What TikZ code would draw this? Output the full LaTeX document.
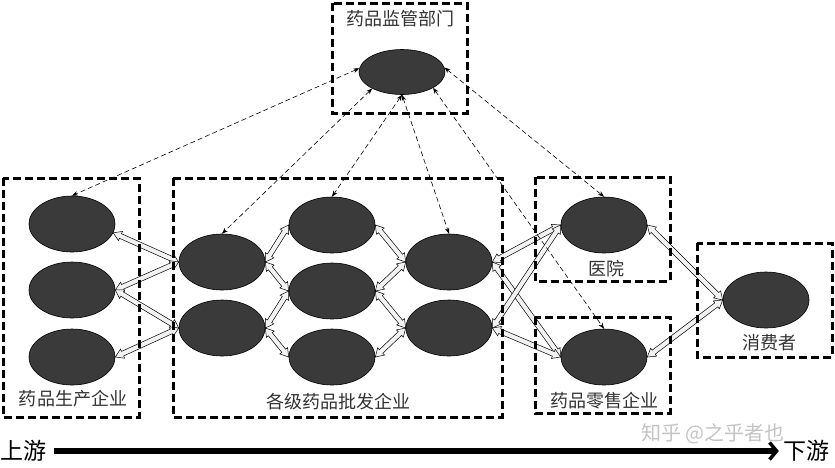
\documentclass[tikz,border=0pt]{standalone}
\usepackage{fontspec}
\newfontfamily\cjk{Noto Sans CJK SC}
\usetikzlibrary{shapes.geometric,calc,arrows.meta}
\definecolor{blobc}{HTML}{3A3A3A}
\definecolor{txt}{HTML}{333333}
\definecolor{hfill}{HTML}{F2F2F2}
\definecolor{wm}{HTML}{C4C4C4}
\newcommand\hollowarr[2]{%
  \coordinate (ha) at ($(#1)!8pt!(#2)$);
  \coordinate (hb) at ($(#2)!8pt!(#1)$);
  \filldraw[hollowline] (#1) -- ($(ha)!5pt!90:(#2)$) -- ($(ha)!2.5pt!90:(#2)$)
    -- ($(hb)!2.5pt!90:(#2)$) -- ($(hb)!5pt!90:(#2)$) -- (#2)
    -- ($(hb)!5pt!-90:(#2)$) -- ($(hb)!2.5pt!-90:(#2)$)
    -- ($(ha)!2.5pt!-90:(#2)$) -- ($(ha)!5pt!-90:(#2)$) -- cycle;}
\begin{document}
\begin{tikzpicture}[x=1pt,y=-1pt,
  blob/.style={ellipse,draw=black,line width=0.6pt,fill=blobc,minimum width=86pt,minimum height=56pt,inner sep=0pt},
  groupbox/.style={draw=black,line width=3pt,dash pattern=on 8pt off 4pt},
  lab/.style={font=\cjk\fontsize{18pt}{18pt}\selectfont,text=txt,inner sep=0pt},
  hollowline/.style={fill=hfill,draw=black,line width=0.5pt,line join=miter},
  dasharr/.style={draw=black,line width=0.6pt,dash pattern=on 5pt off 3pt,{Stealth[length=6pt,width=4.5pt]}-{Stealth[length=6pt,width=4.5pt]}},
]
\useasboundingbox (0,0) rectangle (835,467);
\fill[white] (0,0) rectangle (835,467);

% ellipses
\node[blob,minimum height=45pt] (reg) at (402,72) {};
\node[blob] (p1) at (72,224) {};
\node[blob] (p2) at (72,290) {};
\node[blob] (p3) at (72,357) {};
\node[blob] (w1) at (222,262) {};
\node[blob] (w2) at (222,328) {};
\node[blob] (m1) at (332,225) {};
\node[blob] (m2) at (332,291) {};
\node[blob] (m3) at (332,357) {};
\node[blob] (r1) at (449,262) {};
\node[blob] (r2) at (449,328) {};
\node[blob] (hosp) at (604,225) {};
\node[blob] (shop) at (604,357) {};
\node[blob] (cons) at (766,300) {};

% hollow double arrows
\hollowarr{p1.-12}{w1.west}
\hollowarr{p2.east}{w1.west}
\hollowarr{p2.east}{w2.west}
\hollowarr{p3.east}{w2.west}
\hollowarr{w1.east}{m1.west}
\hollowarr{w1.east}{m2.west}
\hollowarr{w2.east}{m2.west}
\hollowarr{w2.east}{m3.west}
\hollowarr{m1.east}{r1.west}
\hollowarr{m2.east}{r1.west}
\hollowarr{m2.east}{r2.west}
\hollowarr{m3.east}{r2.west}
\hollowarr{r1.east}{hosp.west}
\hollowarr{r1.east}{shop.west}
\hollowarr{r2.east}{hosp.west}
\hollowarr{r2.east}{shop.west}
\hollowarr{hosp.east}{cons.west}
\hollowarr{shop.east}{cons.west}

% dashed supervision arrows
\draw[dasharr] (reg.175) -- (p1.north);
\draw[dasharr] (reg.209) -- (w1.north);
\draw[dasharr] (reg.south) -- (m1.north);
\draw[dasharr] (reg.south) -- (r1.north);
\draw[dasharr] (reg.333) -- (shop.north);
\draw[dasharr] (reg.6) -- (hosp.north);

% group boxes
\draw[groupbox] (332,3) rectangle (467,113);
\draw[groupbox] (3,178) rectangle (139,417);
\draw[groupbox] (173,178) rectangle (502,417);
\draw[groupbox] (535,177) rectangle (670,281);
\draw[groupbox] (535,317) rectangle (670,413);
\draw[groupbox] (697,243) rectangle (832,357);

% labels
\node[lab] (lreg) at (400,19) {药品监管部门};
\node[lab] (lprod) at (73,399) {药品生产企业};
\node[lab] (lwhole) at (338,402) {各级药品批发企业};
\node[lab] (lhosp) at (606,269) {医院};
\node[lab] (lshop) at (604,401) {药品零售企业};
\node[lab] (lcons) at (769,343) {消费者};

% bottom axis
\node[font=\cjk\fontsize{20pt}{20pt}\selectfont,text=wm,inner sep=0pt] (wmark) at (713,434) {知乎 @之乎者也};
\node[font=\cjk\fontsize{23pt}{23pt}\selectfont,inner sep=0pt] (up) at (23,451) {上游};
\node[font=\cjk\fontsize{23pt}{23pt}\selectfont,inner sep=0pt] (down) at (806,451) {下游};
\draw[line width=5.5pt,shorten <=8pt,shorten >=4pt,-{Straight Barb[length=7pt,width=17pt,line width=3.5pt]}] (up.east) -- (down.west);
\end{tikzpicture}
\end{document}
